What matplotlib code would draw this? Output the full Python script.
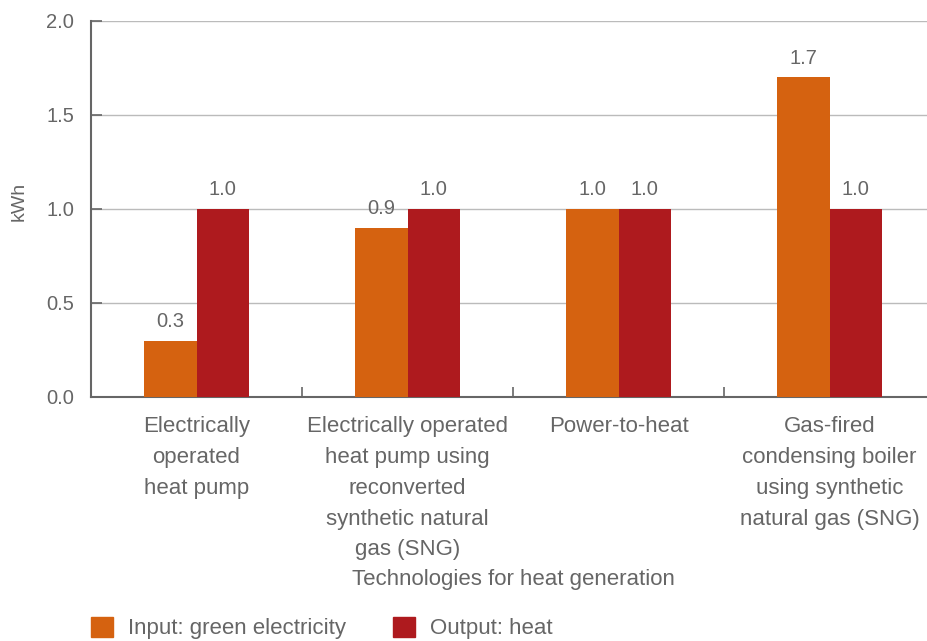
import matplotlib
matplotlib.use("Agg")
import matplotlib.pyplot as plt
from matplotlib.patches import Patch

# values
categories = ["Electrically\noperated\nheat pump",
              "Electrically operated\nheat pump using\nreconverted\nsynthetic natural\ngas (SNG)",
              "Power-to-heat",
              "Gas-fired\ncondensing boiler\nusing synthetic\nnatural gas (SNG)"]
input_green = [0.3, 0.9, 1.0, 1.7]
output_heat = [1.0, 1.0, 1.0, 1.0]
series_names = ["Input: green electricity", "Output: heat"]
y_ticks = [0.0, 0.5, 1.0, 1.5, 2.0]

orange = "#D56210"
red = "#AE1A1E"
grey_text = "#666666"

plt.rcParams["font.family"] = ["Liberation Sans", "DejaVu Sans"]

fig = plt.figure(figsize=(9.27, 6.41), dpi=100)
ax = fig.add_axes([0.0982, 0.3807, 0.9105, 0.5866])

x = list(range(len(categories)))
w = 0.25
b1 = ax.bar([i - w / 2 for i in x], input_green, width=w, color=orange, zorder=3)
b2 = ax.bar([i + w / 2 for i in x], output_heat, width=w, color=red, zorder=3)

for bars in (b1, b2):
    ax.bar_label(bars, labels=["%.1f" % b.get_height() for b in bars],
                 padding=7, fontsize=14.5, color=grey_text)

ax.set_xlim(-0.5, len(categories) - 0.5)
ax.set_ylim(0, 2.0)
ax.set_yticks(y_ticks)
ax.set_yticklabels(["%.1f" % t for t in y_ticks])
ax.yaxis.grid(True, color="#bbbbbb", linewidth=1, zorder=0)

ax.set_xticks(x)
ax.set_xticklabels(categories, fontsize=16, color=grey_text, linespacing=1.61)
ax.set_xticks([0.5, 1.5, 2.5], minor=True)
ax.tick_params(axis="x", which="major", length=0, pad=14)
ax.tick_params(axis="x", which="minor", direction="in", length=7, width=1.2, color="#666666")
ax.tick_params(axis="y", direction="in", length=8, width=1.2, color="#666666",
               labelsize=14.5, labelcolor=grey_text, pad=12)

for side in ["top", "right"]:
    ax.spines[side].set_visible(False)
for side in ["left", "bottom"]:
    ax.spines[side].set_color("#666666")
    ax.spines[side].set_linewidth(1.5)

ax.set_ylabel("kWh", fontsize=14, color=grey_text)
ax.yaxis.set_label_coords(-0.075, 0.52)
ax.set_xlabel("Technologies for heat generation", fontsize=16, color=grey_text, labelpad=6)

handles = [Patch(color=orange), Patch(color=red)]
fig.legend(handles, series_names, loc="center left", bbox_to_anchor=(0.098, 0.0203),
           ncol=2, frameon=False, fontsize=16, labelcolor=grey_text,
           handlelength=1.0, handleheight=1.0, handletextpad=0.68,
           columnspacing=2.1, borderpad=0, borderaxespad=0)

fig.savefig("out.png", dpi=100)
